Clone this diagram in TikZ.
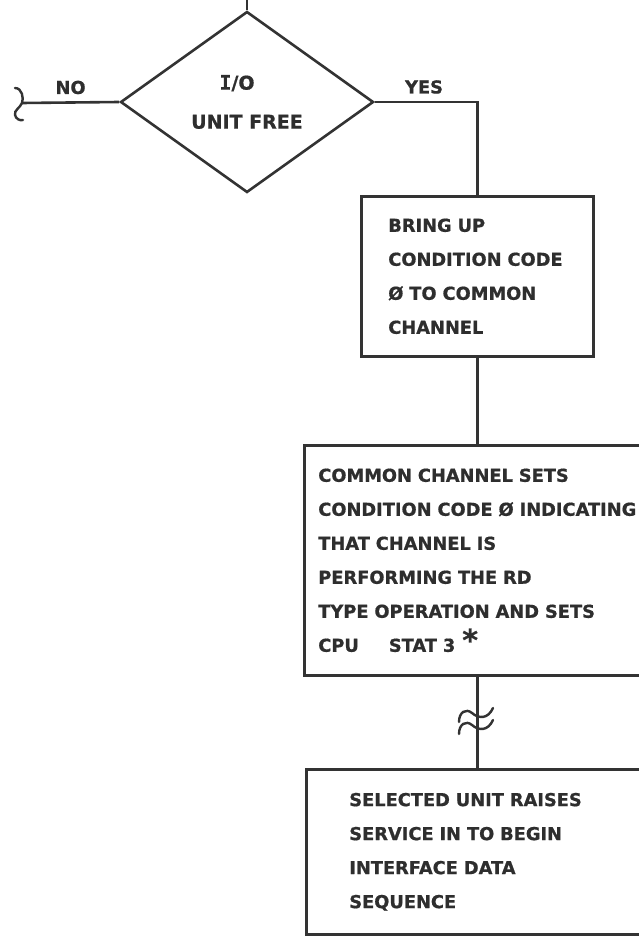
\documentclass[tikz,border=0pt]{standalone}
\usepackage{fontspec}
\setmainfont{DejaVu Sans}[BoldFeatures={FakeBold=0.8}]
\newfontfamily\monoI{DejaVu Sans Mono}[BoldFeatures={FakeBold=0.8}]
\usetikzlibrary{shapes.geometric}
\definecolor{inkc}{HTML}{333333}
\definecolor{textc}{HTML}{2E2E2E}
\hfuzz=300pt
\begin{document}
\begin{tikzpicture}[x=1pt,y=-1pt,
  line/.style={draw=inkc, line width=2.6pt},
  thin/.style={draw=inkc, line width=2.4pt, line cap=round},
  lbl/.style={text=textc, font=\bfseries\fontsize{17.8pt}{20pt}\selectfont, inner sep=0pt},
  box/.style={draw=inkc, line width=2.6pt, rectangle, align=left, inner ysep=0pt,
    text=textc, font=\bfseries\fontsize{17.8pt}{34pt}\selectfont},
  decision/.style={draw=inkc, line width=2.6pt, diamond, inner sep=0pt, align=center,
    text=textc, font=\bfseries\fontsize{19pt}{39pt}\selectfont}]
\useasboundingbox (0,0) rectangle (639,936);
\fill[white] (0,0) rectangle (639,936);
\clip (0,0) rectangle (639,936);

\node[decision, minimum width=253pt, minimum height=181pt] (dec) at (247,102)
  {\hspace*{-20pt}{\monoI\fontsize{20pt}{39pt}\selectfont I}/O\\UNIT FREE};

\node[box, anchor=north west, minimum height=160pt, text width=178pt, inner xsep=27pt] (box1) at (360,195)
  {BRING UP\\CONDITION CODE\\Ø TO COMMON\\CHANNEL};

\node[box, anchor=north west, minimum height=230pt, text width=372pt, inner xsep=14pt] (box2) at (303,444)
  {COMMON CHANNEL SETS\\CONDITION CODE Ø INDICATING\\THAT CHANNEL IS\\PERFORMING THE RD\\TYPE OPERATION AND SETS\\CPU\hspace{30pt}STAT 3\hspace{7pt}\raisebox{1pt}{\fontsize{30pt}{30pt}\selectfont *}};

\node[box, anchor=north west, minimum height=165pt, text width=314pt, inner xsep=43pt] (box3) at (305,768)
  {SELECTED UNIT RAISES\\SERVICE IN TO BEGIN\\INTERFACE DATA\\SEQUENCE};

\coordinate (topEnd) at (247,-5);
\coordinate (noEnd) at (22,103);
\path (box1.south) ++(0,365) coordinate (brk);

\draw[line] (topEnd) -- (dec.north);
\draw[line] (dec.west) -- (noEnd) node[lbl, midway, above=7pt] {NO};
\draw[thin] (15,88) .. controls (22,88) and (24,98) .. (noEnd)
  .. controls (20,108) and (14,110) .. (15,115) .. controls (16,119) and (20,121) .. (23,120);
\draw[line] (dec.east) -| (box1.north) node[lbl, pos=0.24, above=7pt] {YES};
\draw[line] (box1.south) -- (box1.south |- box2.north);
\draw[line] (box1.south |- box2.south) -- (box1.south |- box3.north);
\draw[thin] (459,722) .. controls (459,712) and (466,708) .. (472,713)
  .. controls (479,719) and (488,719) .. (493,708);
\draw[thin] (459,734) .. controls (459,724) and (466,720) .. (472,725)
  .. controls (479,731) and (488,731) .. (493,720);
\end{tikzpicture}
\end{document}
